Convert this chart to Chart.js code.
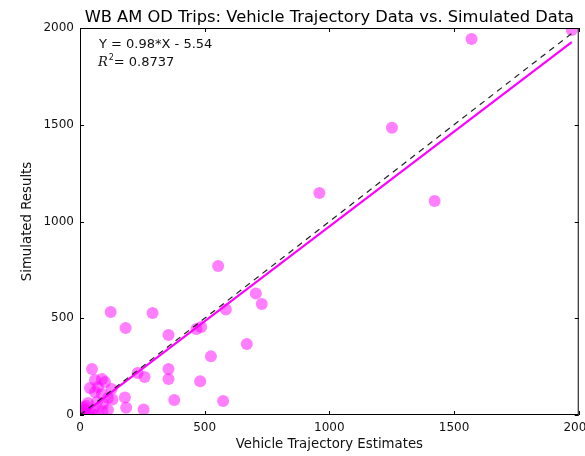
<!DOCTYPE html>
<html><head><meta charset="utf-8">
<script src="https://cdn.jsdelivr.net/npm/chart.js@4/dist/chart.umd.min.js"></script>
<style>
html,body{margin:0;padding:0;background:#fff;overflow:hidden}
#wrap{width:585px;height:456px;overflow:hidden;position:relative}
#c{position:absolute;left:0;top:0}
</style></head>
<body><div id="wrap"><canvas id="c" width="600" height="456"></canvas></div>
<script>
const titleText = 'WB AM OD Trips: Vehicle Trajectory Data vs. Simulated Data';
const xLabel = 'Vehicle Trajectory Estimates';
const yLabel = 'Simulated Results';
const tickValues = [0, 500, 1000, 1500, 2000];
const equationText = 'Y = 0.98*X - 5.54';
const r2Text = '= 0.8737';

const estimates = [1972, 1570, 1251, 1422, 960, 554, 705, 729, 585, 467, 486, 669, 525,
  123, 291, 183, 355, 355, 355, 482, 378, 574, 180, 185, 255, 231, 259, 48,
  60, 88, 100, 72, 127, 40, 60, 88, 112, 68, 32, 92, 20, 52, 112, 8, 32, 72, 15, 45, 90, 5, 25, 130];
const simulated = [1990, 1943, 1485, 1106, 1147, 770, 628, 574, 545, 445, 455, 367, 303,
  532, 527, 450, 414, 238, 186, 174, 78, 72, 90, 38, 28, 217, 196, 238,
  181, 186, 171, 145, 134, 140, 119, 109, 88, 67, 62, 57, 26, 26, 26, 10, 5, 5, 40, 12, 20, 30, 48, 80];

// Regression fit line endpoints (Y = 0.98*X - 5.54) and 1:1 reference line
const fitX = [0, 1972];
const fitY = [-5.54, 1927];
const refX = [0, 1972];
const refY = [0, 1972];

const pts = estimates.map((x, i) => ({x: x, y: simulated[i]}));
const fitPts = fitX.map((x, i) => ({x: x, y: fitY[i]}));
const refPts = refX.map((x, i) => ({x: x, y: refY[i]}));

const FONT = 'DejaVu Sans';

const decor = {
  id: 'decor',
  afterDraw(chart) {
    const {ctx, chartArea: a, scales: {x, y}} = chart;
    ctx.save();
    // frame
    ctx.strokeStyle = '#000';
    ctx.lineWidth = 1;
    ctx.strokeRect(a.left + 0.5, a.top + 0.5, a.right - a.left - 1, a.bottom - a.top - 1);
    // inward ticks on all four sides
    const tl = 4;
    ctx.beginPath();
    tickValues.forEach(v => {
      const px = Math.round(x.getPixelForValue(v)) + 0.5;
      ctx.moveTo(px, a.bottom); ctx.lineTo(px, a.bottom - tl);
      ctx.moveTo(px, a.top); ctx.lineTo(px, a.top + tl);
      const py = Math.round(y.getPixelForValue(v)) + 0.5;
      ctx.moveTo(a.left, py); ctx.lineTo(a.left + tl, py);
      ctx.moveTo(a.right, py); ctx.lineTo(a.right - tl, py);
    });
    ctx.stroke();
    // title centred over plot area
    ctx.fillStyle = '#000';
    ctx.font = '16.3px "' + FONT + '"';
    ctx.textAlign = 'center';
    ctx.textBaseline = 'alphabetic';
    ctx.fillText(titleText, (a.left + a.right) / 2, 22);
    // equation annotation
    ctx.textAlign = 'left';
    ctx.font = '13px "' + FONT + '"';
    ctx.fillStyle = '#111';
    ctx.fillText(equationText, 99, 48);
    ctx.font = 'italic 13px "DejaVu Serif"';
    ctx.fillText('R', 98, 66);
    let w = ctx.measureText('R').width;
    ctx.font = '8px "' + FONT + '"';
    ctx.fillText('2', 98 + w + 1, 60);
    ctx.font = '13px "' + FONT + '"';
    ctx.fillText(r2Text, 98 + w + 6, 66);
    ctx.restore();
  }
};

new Chart(document.getElementById('c'), {
  type: 'scatter',
  data: {
    datasets: [
      {
        type: 'line', label: '1:1', data: refPts, order: 0,
        borderColor: '#222', borderWidth: 1.2, borderDash: [6, 5],
        pointRadius: 0, fill: false, clip: 0
      },
      {
        type: 'line', label: 'fit', data: fitPts, order: 1,
        borderColor: '#ff00ff', borderWidth: 2.2,
        pointRadius: 0, fill: false, clip: 0
      },
      {
        label: 'data', data: pts, order: 2,
        backgroundColor: 'rgba(255,0,255,0.5)', borderWidth: 0,
        pointRadius: 6, pointHoverRadius: 6, clip: 0
      }
    ]
  },
  options: {
    responsive: false,
    animation: false,
    devicePixelRatio: 1,
    layout: {padding: {left: 0, right: 18, top: 28, bottom: 0}},
    plugins: {legend: {display: false}, title: {display: false}, tooltip: {enabled: false}},
    scales: {
      x: {
        type: 'linear', min: 0, max: 2000,
        afterBuildTicks: s => { s.ticks = tickValues.map(v => ({value: v})); },
        afterFit: s => { s.height = 41; },
        grid: {drawOnChartArea: false, drawTicks: false},
        border: {display: false},
        ticks: {color: '#111', font: {family: FONT, size: 12}, padding: 6, maxRotation: 0,
                callback: v => String(v)},
        title: {display: true, text: xLabel, color: '#111', font: {family: FONT, size: 13.3}, padding: {top: 0, bottom: 3}}
      },
      y: {
        type: 'linear', min: 0, max: 2000,
        afterBuildTicks: s => { s.ticks = tickValues.map(v => ({value: v})); },
        afterFit: s => { s.width = 80; },
        grid: {drawOnChartArea: false, drawTicks: false},
        border: {display: false},
        ticks: {color: '#111', font: {family: FONT, size: 12}, padding: 6,
                callback: v => String(v)},
        title: {display: true, text: yLabel, color: '#111', font: {family: FONT, size: 13.3}, padding: {top: 20, bottom: 0}}
      }
    }
  },
  plugins: [decor]
});
</script>
</body></html>
